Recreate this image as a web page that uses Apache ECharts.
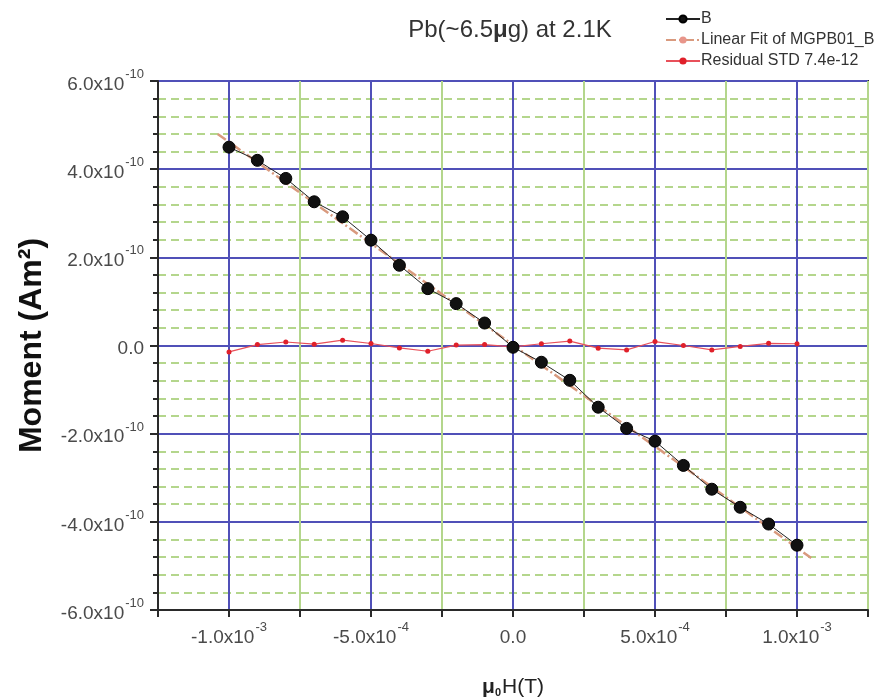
<!DOCTYPE html>
<html>
<head>
<meta charset="utf-8">
<script src="https://cdn.jsdelivr.net/npm/echarts@6/dist/echarts.min.js"></script>
<style>
html,body{margin:0;padding:0;background:#fff;}
#chart{width:880px;height:698px;}
</style>
</head>
<body>
<div id="chart"></div>
<script>
// Field values (T)
var fieldValues = [-1.0e-3,-0.9e-3,-0.8e-3,-0.7e-3,-0.6e-3,-0.5e-3,-0.4e-3,-0.3e-3,-0.2e-3,-0.1e-3,0,
                   0.1e-3,0.2e-3,0.3e-3,0.4e-3,0.5e-3,0.6e-3,0.7e-3,0.8e-3,0.9e-3,1.0e-3];
// Moment B (Am^2)
var momentB = [4.50e-10,4.20e-10,3.79e-10,3.26e-10,2.92e-10,2.39e-10,1.82e-10,1.29e-10,0.95e-10,0.51e-10,-0.04e-10,
               -0.38e-10,-0.79e-10,-1.40e-10,-1.88e-10,-2.17e-10,-2.72e-10,-3.26e-10,-3.67e-10,-4.05e-10,-4.53e-10];
// Residuals (Am^2)
var residual = [-1.45e-11,0.2e-11,0.8e-11,0.3e-11,1.2e-11,0.45e-11,-0.55e-11,-1.3e-11,0.1e-11,0.2e-11,-0.3e-11,
                0.4e-11,1.0e-11,-0.6e-11,-1.0e-11,0.9e-11,0.0e-11,-1.0e-11,-0.2e-11,0.5e-11,0.4e-11];
// Linear fit endpoints
var fitField = [-1.04e-3, 1.05e-3];
var fitMoment = [4.80e-10, -4.82e-10];
// Labelled ticks
var xMajorTicks = [-1.0e-3,-5.0e-4,0,5.0e-4,1.0e-3];
var yMajorTicks = [-6e-10,-4e-10,-2e-10,0,2e-10,4e-10,6e-10];

var seriesNames = ['B','Linear Fit of MGPB01_B','Residual STD 7.4e-12'];

function zip(a,b){ return a.map(function(v,i){ return [v,b[i]]; }); }

function sciLabel(v){
  if (Math.abs(v) < 1e-20) return '{m|0.0}';
  var e = Math.floor(Math.log10(Math.abs(v)) + 1e-9);
  var m = v / Math.pow(10, e);
  return '{m|' + m.toFixed(1) + 'x10}{s|' + e + '}';
}
function isIn(v, arr){
  for (var i=0;i<arr.length;i++){ if (Math.abs(v-arr[i]) < Math.abs(arr[1]-arr[0])*1e-3) return true; }
  return false;
}

var FONT = '"Liberation Sans", Arial, sans-serif';
var GREEN = '#b4d68c';
var BLUE = '#5050b8';
var richLabel = {
  m: {fontSize: 19, color: '#4a4a4a', fontFamily: FONT, lineHeight: 26, verticalAlign: 'bottom'},
  s: {fontSize: 13, color: '#4a4a4a', fontFamily: FONT, lineHeight: 26, verticalAlign: 'top', padding: [0,0,0,1]}
};

var chart = echarts.init(document.getElementById('chart'));
chart.setOption({
  animation: false,
  backgroundColor: '#fff',
  title: {
    text: 'Pb(~6.5{b|μ}g) at 2.1K',
    left: 505, top: 13, textAlign: 'center',
    textStyle: {
      fontSize: 24, fontWeight: 'normal', color: '#333', fontFamily: FONT,
      rich: { b: {fontSize: 24, fontWeight: 'bold', color: '#333', fontFamily: FONT} }
    }
  },
  legend: {
    orient: 'vertical', left: 660, top: 6, itemGap: 5,
    itemWidth: 34, itemHeight: 9,
    data: seriesNames,
    textStyle: {fontSize: 16, color: '#333', fontFamily: FONT, padding: [0,0,0,-4]}
  },
  grid: {left: 158, right: 12, top: 81, bottom: 88, containLabel: false, outerBoundsMode: 'none',
         show: true, borderColor: '#2a2a2a', borderWidth: 2},
  xAxis: {
    type: 'value', min: -1.25e-3, max: 1.25e-3, interval: 2.5e-4,
    name: '{a|μ}{b|0}{c|H(T)}', nameLocation: 'middle', nameGap: 62,
    nameTextStyle: {
      rich: {
        a: {fontSize: 21, fontWeight: 'bold', color: '#222', fontFamily: FONT, verticalAlign: 'bottom', lineHeight: 26},
        b: {fontSize: 11, fontWeight: 'bold', color: '#222', fontFamily: FONT, verticalAlign: 'bottom', lineHeight: 18, padding: [0,1,0,0]},
        c: {fontSize: 21, color: '#222', fontFamily: FONT, verticalAlign: 'bottom', lineHeight: 26}
      }
    },
    axisLine: {show: true, onZero: false, lineStyle: {color: '#2a2a2a', width: 2}},
    axisTick: {show: true, length: 7, lineStyle: {color: '#2a2a2a', width: 2}},
    splitLine: {show: true, lineStyle: {color: [GREEN, BLUE], width: 2}},
    axisLabel: {
      margin: 11,
      formatter: function(v){ return isIn(v, xMajorTicks) ? sciLabel(v) : ''; },
      rich: richLabel
    }
  },
  yAxis: {
    type: 'value', min: -6e-10, max: 6e-10, interval: 2e-10,
    name: 'Moment (Am²)', nameLocation: 'middle', nameGap: 110,
    nameTextStyle: {fontSize: 32, fontWeight: 'bold', color: '#111', fontFamily: FONT},
    axisLine: {show: true, onZero: false, lineStyle: {color: '#2a2a2a', width: 2}},
    axisTick: {show: true, length: 8, lineStyle: {color: '#2a2a2a', width: 2}},
    minorTick: {show: true, splitNumber: 5, length: 5, lineStyle: {color: '#2a2a2a', width: 2}},
    splitLine: {show: true, lineStyle: {color: BLUE, width: 2}},
    minorSplitLine: {show: true, lineStyle: {color: GREEN, width: 2, type: [8,5]}},
    axisLabel: {
      margin: 14,
      formatter: function(v){ return sciLabel(v); },
      rich: richLabel
    }
  },
  series: [
    {
      name: seriesNames[0], type: 'line', data: zip(fieldValues, momentB),
      symbol: 'circle', symbolSize: 12, z: 4,
      itemStyle: {color: '#111', borderColor: '#000', borderWidth: 1},
      lineStyle: {color: '#222', width: 1}
    },
    {
      name: seriesNames[1], type: 'line', data: zip(fitField, fitMoment),
      symbol: 'none', z: 3,
      itemStyle: {color: '#e8958a'},
      lineStyle: {color: '#d99a7e', width: 2.5, type: [10,3,2,3]}
    },
    {
      name: seriesNames[2], type: 'line', data: zip(fieldValues, residual),
      symbol: 'circle', symbolSize: 5, z: 2,
      itemStyle: {color: '#e0202a'},
      lineStyle: {color: '#e8505a', width: 1.2}
    }
  ]
});
</script>
</body>
</html>
